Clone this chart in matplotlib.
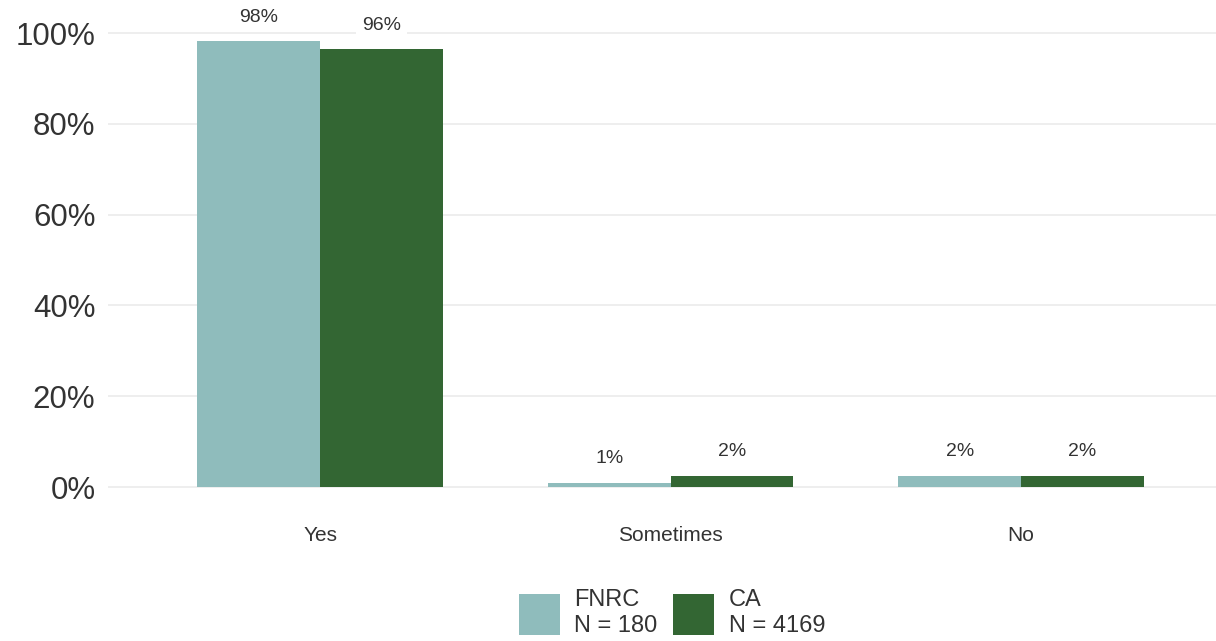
import matplotlib
matplotlib.use("Agg")
import matplotlib.pyplot as plt
import numpy as np
from matplotlib.patches import Patch

plt.rcParams['font.family'] = ['Liberation Sans', 'DejaVu Sans']

categories = ["Yes", "Sometimes", "No"]
series_names = ["FNRC\nN = 180", "CA\nN = 4169"]
fnrc_values = [98.2, 0.9, 2.4]
ca_values = [96.4, 2.4, 2.4]
fnrc_labels = ["98%", "1%", "2%"]
ca_labels = ["96%", "2%", "2%"]
yticks = [0, 20, 40, 60, 80, 100]
ytick_labels = ["0%", "20%", "40%", "60%", "80%", "100%"]

colors = ["#8FBCBC", "#336633"]
text_color = "#333333"

fig = plt.figure(figsize=(12.16, 6.41), dpi=100)
ax = fig.add_axes([108/1216, (641-497)/641, 1 - 108/1216, (497-5)/641])

x = np.arange(len(categories))
w = 0.35
b1 = ax.bar(x - w/2, fnrc_values, width=w, color=colors[0], zorder=2)
b2 = ax.bar(x + w/2, ca_values, width=w, color=colors[1], zorder=2)

for bars, labels in [(b1, fnrc_labels), (b2, ca_labels)]:
    for rect, lab in zip(bars, labels):
        ax.annotate(lab, (rect.get_x() + rect.get_width()/2, rect.get_height()),
                    xytext=(0, 17.5), textcoords="offset points",
                    ha="center", va="center", fontsize=14, color=text_color,
                    bbox=dict(boxstyle="square,pad=0.3", fc="white", ec="none"),
                    zorder=3, annotation_clip=False)

ax.set_xlim(-0.605, 2.556)
ax.set_ylim(-2.2, 106.2)
ax.set_yticks(yticks)
ax.set_yticklabels(ytick_labels)
ax.set_xticks(x)
ax.set_xticklabels(categories)
ax.tick_params(axis='y', length=0, pad=9, labelsize=22.5, labelcolor=text_color)
ax.tick_params(axis='x', length=0, pad=21, labelsize=15, labelcolor=text_color)
ax.grid(axis='y', color="#EBEBEB", linewidth=1.2, zorder=0)
ax.set_axisbelow(True)
for s in ax.spines.values():
    s.set_visible(False)

handles = [Patch(facecolor=c, edgecolor='none') for c in colors]
fig.legend(handles, series_names, loc="center", bbox_to_anchor=(672/1216, 1 - 613/641),
           ncol=2, frameon=False, fontsize=17, handlelength=1.75, handleheight=2.3,
           handletextpad=0.6, columnspacing=0.65, labelcolor=text_color, labelspacing=0.2)

fig.savefig("out.png", dpi=100)
